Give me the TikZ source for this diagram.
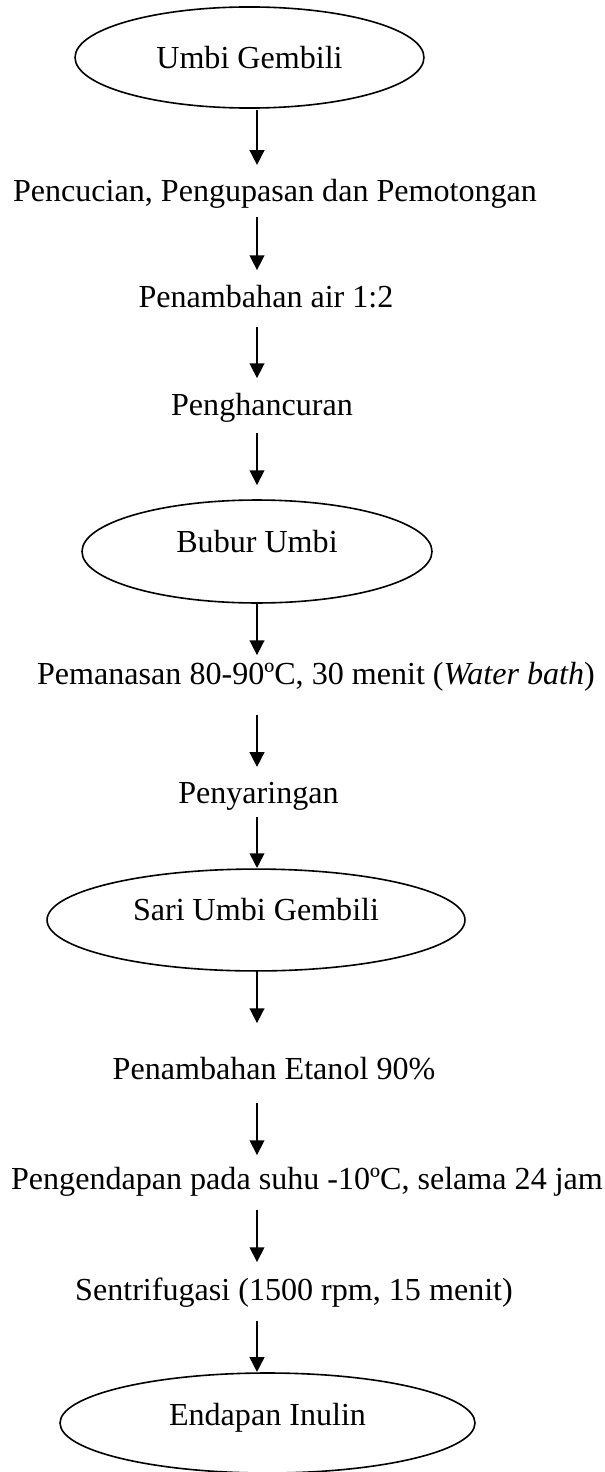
\documentclass[tikz,border=0pt]{standalone}
\usepackage{fontspec}
\setmainfont{Liberation Serif}
\usetikzlibrary{arrows.meta, shapes.geometric}

\begin{document}
\begin{tikzpicture}[x=0.374pt,y=-0.374pt,>={Triangle[length=5.5pt,width=5.5pt]},
        every node/.style={font=\fontsize{12pt}{14pt}\selectfont, inner sep=0pt, outer sep=0pt},
        proses/.style={anchor=base, text height=8pt, text depth=2.5pt},
        oval/.style={ellipse, draw, line width=0.6pt, text height=8pt},
        gap/.style 2 args={shorten <=#1pt, shorten >=#2pt}]

    \useasboundingbox (0,0) rectangle (605,1472);

    \node[oval, minimum width=130.5pt, minimum height=37.8pt, text depth=0pt] (umbi) at (249.5,57.5) {Umbi Gembili};
    \node[proses] (cuci)   at (275,201)  {Pencucian, Pengupasan dan Pemotongan};
    \node[proses] (air)    at (266,307)  {Penambahan air 1:2};
    \node[proses] (hancur) at (262,415)  {Penghancuran};
    \node[oval, minimum width=130.9pt, minimum height=38.5pt, text depth=7.3pt] (bubur) at (257,551.5) {Bubur Umbi};
    \node[proses] (panas)  at (316,684)  {Pemanasan 80-90ºC, 30 menit (\textit{Water bath})};
    \node[proses] (saring) at (258.5,803) {Penyaringan};
    \node[oval, minimum width=156.3pt, minimum height=38.1pt, text depth=7.3pt] (sari) at (256,920) {Sari Umbi Gembili};
    \node[proses] (etanol) at (274,1079) {Penambahan Etanol 90\%};
    \node[proses] (endap)  at (307,1189) {Pengendapan pada suhu -10ºC, selama 24 jam};
    \node[proses] (sentri) at (294,1300) {Sentrifugasi (1500 rpm, 15 menit)};
    \node[oval, minimum width=155.2pt, minimum height=37.4pt, text depth=5.8pt] (inulin) at (267.5,1423) {Endapan Inulin};

    \coordinate (ax) at (257,0);

    \path[->, line width=0.6pt]
        (umbi.south -| ax)   edge [gap={0.75}{5.5}] (cuci.north -| ax)
        (cuci.south -| ax)   edge [gap={3.5}{5.8}]  (air.north -| ax)
        (air.south -| ax)    edge [gap={5}{5.8}]    (hancur.north -| ax)
        (hancur.south -| ax) edge [gap={4.2}{5.6}]  (bubur.north -| ax)
        (bubur.south -| ax)  edge [gap={0}{2.8}]    (panas.north -| ax)
        (panas.south -| ax)  edge [gap={9}{5.5}]    (saring.north -| ax)
        (saring.south -| ax) edge [gap={2.7}{0.4}]  (sari.north -| ax)
        (sari.south -| ax)   edge [gap={0}{12.9}]   (etanol.north -| ax)
        (etanol.south -| ax) edge [gap={6.4}{4.7}]  (endap.north -| ax)
        (endap.south -| ax)  edge [gap={5.2}{6.2}]  (sentri.north -| ax)
        (sentri.south -| ax) edge [gap={5.2}{0.4}]  (inulin.north -| ax);
\end{tikzpicture}
\end{document}
